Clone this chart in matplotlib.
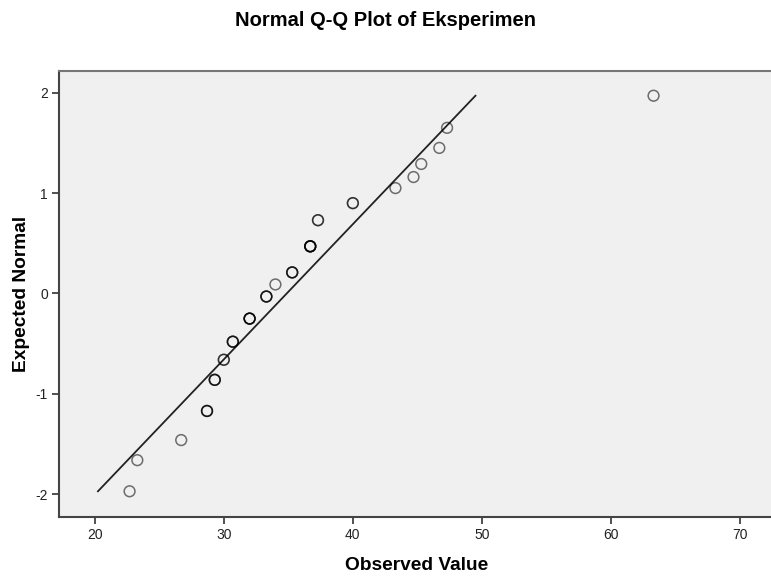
import matplotlib.pyplot as plt

plt.rcParams['font.family'] = ['Liberation Sans', 'DejaVu Sans']
plt.rcParams['axes.unicode_minus'] = False

observed = [22.7, 23.3, 26.7, 28.7, 29.3, 30.0, 30.7, 32.0, 33.3, 34.0,
            35.3, 36.7, 37.3, 40.0, 43.3, 44.7, 45.3, 46.7, 47.3, 63.3]
expected = [-1.97, -1.66, -1.46, -1.17, -0.86, -0.66, -0.48, -0.25, -0.03, 0.09,
            0.21, 0.47, 0.73, 0.90, 1.05, 1.16, 1.29, 1.45, 1.65, 1.97]
# how many cases share each point (tied values are drawn on top of each other)
counts = [1, 1, 1, 3, 3, 2, 3, 4, 3, 1, 3, 5, 2, 2, 1, 1, 1, 1, 1, 1]

# reference line end points
line_x = [20.25, 49.5]
line_y = [-1.97, 1.97]

fig = plt.figure(figsize=(7.71, 5.81), dpi=100)
ax = fig.add_axes([0.0765, 0.1107, 0.9235, 0.7676])
ax.set_facecolor('#f0f0f0')

ax.plot(line_x, line_y, color='#222222', linewidth=1.3, zorder=2)

xs, ys = [], []
for x, y, c in zip(observed, expected, counts):
    xs += [x] * c
    ys += [y] * c
ax.scatter(xs, ys, s=60, facecolors='none', edgecolors=(0, 0, 0, 0.55),
           linewidths=1.1, zorder=3)

ax.set_xlim(17.23, 72.4)
ax.set_ylim(-2.223, 2.219)
ax.set_xticks([20, 30, 40, 50, 60, 70])
ax.set_yticks([-2, -1, 0, 1, 2])

for side in ['left', 'bottom', 'top']:
    ax.spines[side].set_color('#444444')
    ax.spines[side].set_linewidth(1.5)
ax.spines['top'].set_color('#777777')
ax.spines['right'].set_visible(False)
ax.tick_params(direction='out', length=5, width=1.2, color='#333333',
               labelsize=10, labelcolor='#222222', pad=3)

fig.text(416.5 / 771, 1 - 565 / 581, 'Observed Value', fontsize=13.8,
         fontweight='bold', ha='center', va='center')
fig.text(22 / 771, 1 - 293.5 / 581, 'Expected Normal', fontsize=13.8,
         fontweight='bold', ha='center', va='center', rotation=90)
fig.text(0.5, 1 - 20 / 581, 'Normal Q-Q Plot of Eksperimen', fontsize=14.5,
         fontweight='bold', ha='center', va='center')

fig.savefig('out.png', dpi=100)
